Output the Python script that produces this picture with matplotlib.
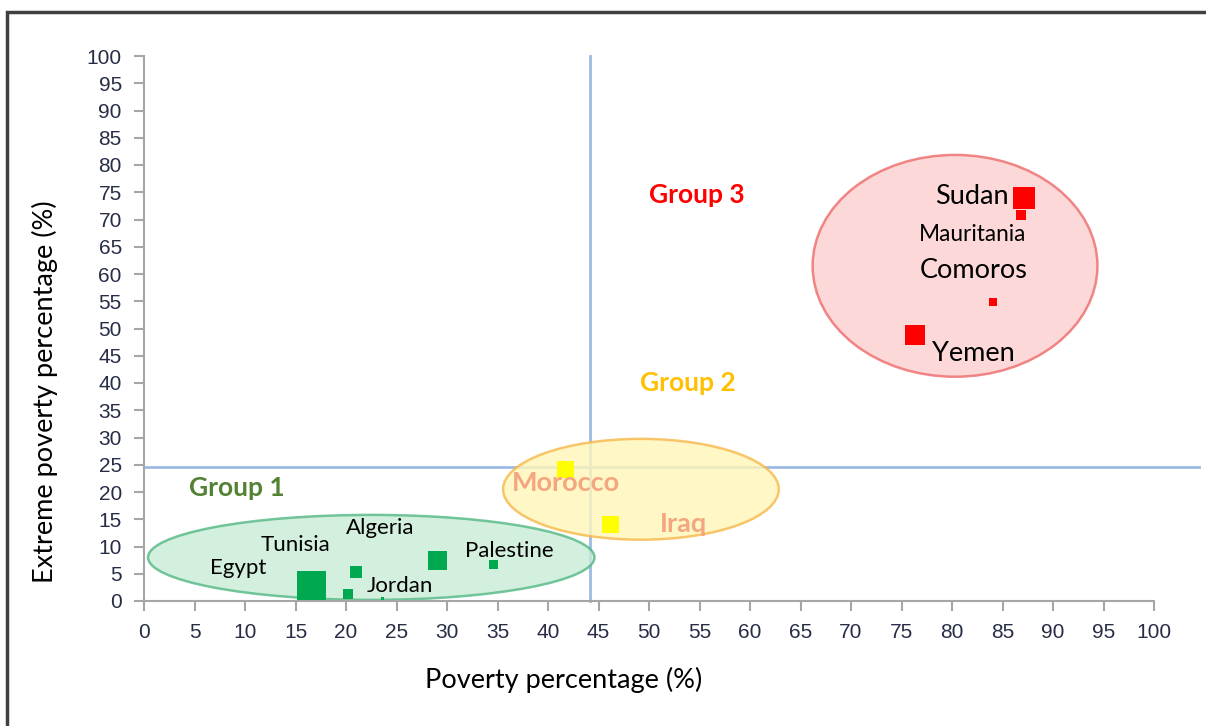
import matplotlib
matplotlib.use("Agg")
import matplotlib.pyplot as plt
from matplotlib.patches import Ellipse, Rectangle

# data
countries = ["Egypt", "Tunisia", "Algeria", "Jordan", "Palestine", "Other",
             "Morocco", "Iraq", "Sudan", "Mauritania", "Comoros", "Yemen"]
poverty = [16.5, 20.2, 21.0, 23.6, 34.6, 29.0, 41.7, 46.1, 87.1, 86.8, 84.1, 76.3]
extreme = [2.9, 1.3, 5.3, 0.5, 6.8, 7.5, 24.3, 14.1, 74.0, 70.8, 54.9, 48.8]
marker_px = [29, 10, 12, 3, 9, 19, 17, 17, 23, 10, 8, 20]
groups = [1, 1, 1, 1, 1, 1, 2, 2, 3, 3, 3, 3]

# group ellipses: centre x, centre y, width, height
ellipse_cx = [22.5, 49.2, 80.3]
ellipse_cy = [8.0, 20.5, 61.5]
ellipse_w = [44.2, 27.3, 28.2]
ellipse_h = [15.6, 18.5, 40.7]

poverty_threshold = 44.2
extreme_threshold = 24.6

ticks = list(range(0, 101, 5))

marker_colors = {1: "#00a84f", 2: "#ffff00", 3: "#ff0000"}
fill_colors = ["#c8ebd6", "#fff6b8", "#fdcfcf"]
edge_colors = ["#52b883", "#f7b84a", "#ee6a6a"]

tick_font = ["Liberation Sans", "DejaVu Sans"]
label_font = ["Lato", "DejaVu Sans"]

fig = plt.figure(figsize=(12.06, 7.26), dpi=100)
ax = fig.add_axes([144 / 1206, 1 - 601 / 726, 1010 / 1206, 545 / 726])

# outer frame
fig.patches.append(Rectangle((7 / 1206, -0.1), 1.2, 1.1 - 12 / 726, transform=fig.transFigure,
                             fill=False, edgecolor="#404040", linewidth=2.5, clip_on=False))

ax.set_xlim(0, 100)
ax.set_ylim(0, 100)
for s in ["top", "right"]:
    ax.spines[s].set_visible(False)
for s in ["left", "bottom"]:
    ax.spines[s].set_color("#a6a6a6")
    ax.spines[s].set_linewidth(1.5)
ax.set_xticks(ticks)
ax.set_yticks(ticks)
ax.tick_params(axis="both", direction="out", length=7, width=1.5, color="#a6a6a6",
               labelcolor="#262d45", labelsize=15, pad=9)
for lab in ax.get_xticklabels() + ax.get_yticklabels():
    lab.set_family(tick_font)

# quadrant lines
ax.plot([poverty_threshold, poverty_threshold], [0, 100], color="#9dbbe3", lw=2, zorder=1, clip_on=False)
ax.plot([0, 104.5], [extreme_threshold, extreme_threshold], color="#9dbbe3", lw=2, zorder=1, clip_on=False)

for i in range(3):
    e = Ellipse((ellipse_cx[i], ellipse_cy[i]), ellipse_w[i], ellipse_h[i],
                facecolor=fill_colors[i], edgecolor=edge_colors[i], lw=1.8, alpha=0.8, zorder=2)
    ax.add_patch(e)

for x, y, s, g in zip(poverty, extreme, marker_px, groups):
    side_pt = s * 72 / 100
    ax.scatter([x], [y], s=side_pt ** 2, marker="s", color=marker_colors[g],
               linewidths=0, zorder=3, clip_on=False)

# country labels
black_labels = {
    "Egypt": (9.3, 6.1, 16), "Tunisia": (15.0, 10.3, 16), "Algeria": (23.4, 13.4, 16),
    "Jordan": (25.3, 2.8, 16), "Palestine": (36.2, 9.2, 16),
    "Sudan": (82.0, 74.3, 19.5), "Mauritania": (82.0, 67.3, 16.3),
    "Comoros": (82.1, 60.6, 19.5), "Yemen": (82.1, 45.5, 19.5),
}
for name, (x, y, fs) in black_labels.items():
    ax.text(x, y, name, fontsize=fs, family=label_font, color="black",
            ha="center", va="center", zorder=4)

for name, (x, y) in {"Morocco": (41.8, 21.6), "Iraq": (53.4, 14.1)}.items():
    ax.text(x, y, name, fontsize=19.5, family=label_font, color="#f4a77f",
            fontweight="bold", ha="center", va="center", zorder=4)

ax.text(9.2, 20.7, "Group 1", fontsize=19, family=label_font, color="#548235",
        fontweight="bold", ha="center", va="center", zorder=4)
ax.text(53.8, 40.0, "Group 2", fontsize=19, family=label_font, color="#ffc000",
        fontweight="bold", ha="center", va="center", zorder=4)
ax.text(54.7, 74.5, "Group 3", fontsize=19, family=label_font, color="#ff0000",
        fontweight="bold", ha="center", va="center", zorder=4)

fig.text(564 / 1206, 1 - 680 / 726, "Poverty percentage (%)", fontsize=19.5,
         family=label_font, ha="center", va="center")
fig.text(45 / 1206, 1 - 392 / 726, "Extreme poverty percentage (%)", fontsize=19.5,
         family=label_font, rotation=90, ha="center", va="center")

fig.savefig("out.png", dpi=100)
